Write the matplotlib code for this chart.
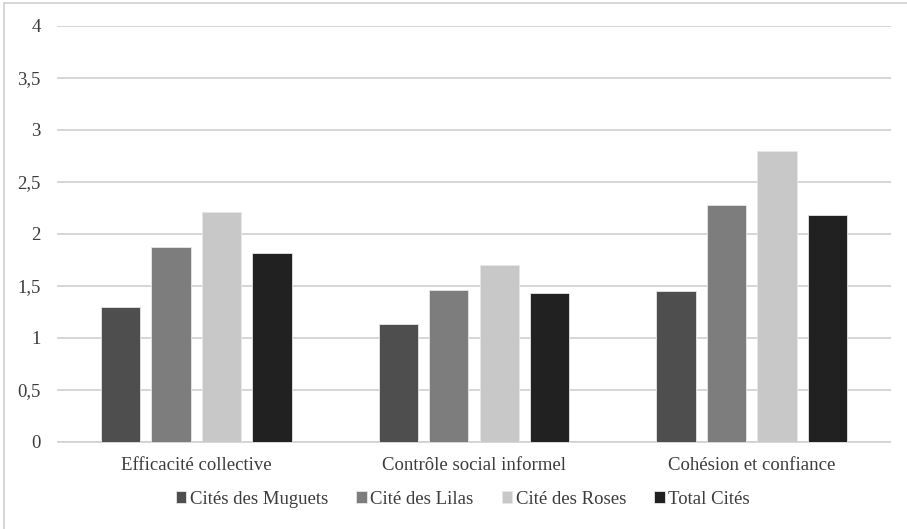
import matplotlib.pyplot as plt
import numpy as np
from matplotlib.patches import Rectangle

categories = ["Efficacité collective", "Contrôle social informel", "Cohésion et confiance"]
series = ["Cités des Muguets", "Cité des Lilas", "Cité des Roses", "Total Cités"]
muguets = [1.29, 1.13, 1.45]
lilas = [1.87, 1.46, 2.27]
roses = [2.21, 1.70, 2.79]
total = [1.81, 1.43, 2.18]
yticks = [0, 0.5, 1, 1.5, 2, 2.5, 3, 3.5, 4]

colors = ["#4e4e4e", "#7d7d7d", "#c8c8c8", "#212121"]
plt.rcParams['font.family'] = ['Liberation Serif', 'DejaVu Serif']

fig = plt.figure(figsize=(9.07, 5.29), dpi=100)
ax = fig.add_axes([57.5 / 907, 1 - 441.5 / 529, 833 / 907, 416 / 529])

x = np.arange(len(categories))
width = 0.1415
step = 0.182
for i, (vals, name) in enumerate(zip([muguets, lilas, roses, total], series)):
    offs = (i - 1.5) * step
    ax.bar(x + offs, vals, width, color=colors[i], label=name,
           edgecolor="#e6e6e6", linewidth=0.6, zorder=3)

ax.set_xlim(-0.5, 2.5)
ax.set_ylim(0, 4)
ax.set_yticks(yticks)
ax.set_yticklabels([str(v).replace(".", ",") if v % 1 else str(int(v)) for v in yticks])
ax.set_xticks(x)
ax.set_xticklabels(categories)
ax.tick_params(axis="both", length=0, labelsize=13.5, labelcolor="#3c3c3c")
ax.tick_params(axis="x", pad=11.5)
ax.tick_params(axis="y", pad=12)
ax.grid(axis="y", color="#d0d0d0", linewidth=1.2, zorder=0)
for s in ["top", "right", "left"]:
    ax.spines[s].set_visible(False)
ax.spines["bottom"].set_color("#d0d0d0")
ax.spines["bottom"].set_linewidth(1.2)

fig.legend(loc="center", bbox_to_anchor=(463 / 907, 1 - 499 / 529), ncol=4,
           frameon=False, fontsize=13.5, handlelength=0.55, handleheight=0.55,
           handletextpad=0.2, columnspacing=1.5, labelcolor="#3c3c3c")

# light frame around the chart area
fig.patches.append(Rectangle((4 / 907, -0.1), 1.2, 1 - 2.5 / 529 + 0.1,
                             transform=fig.transFigure, fill=False,
                             edgecolor="#d0d0d0", linewidth=1.2))

fig.savefig("out.png", dpi=100)
